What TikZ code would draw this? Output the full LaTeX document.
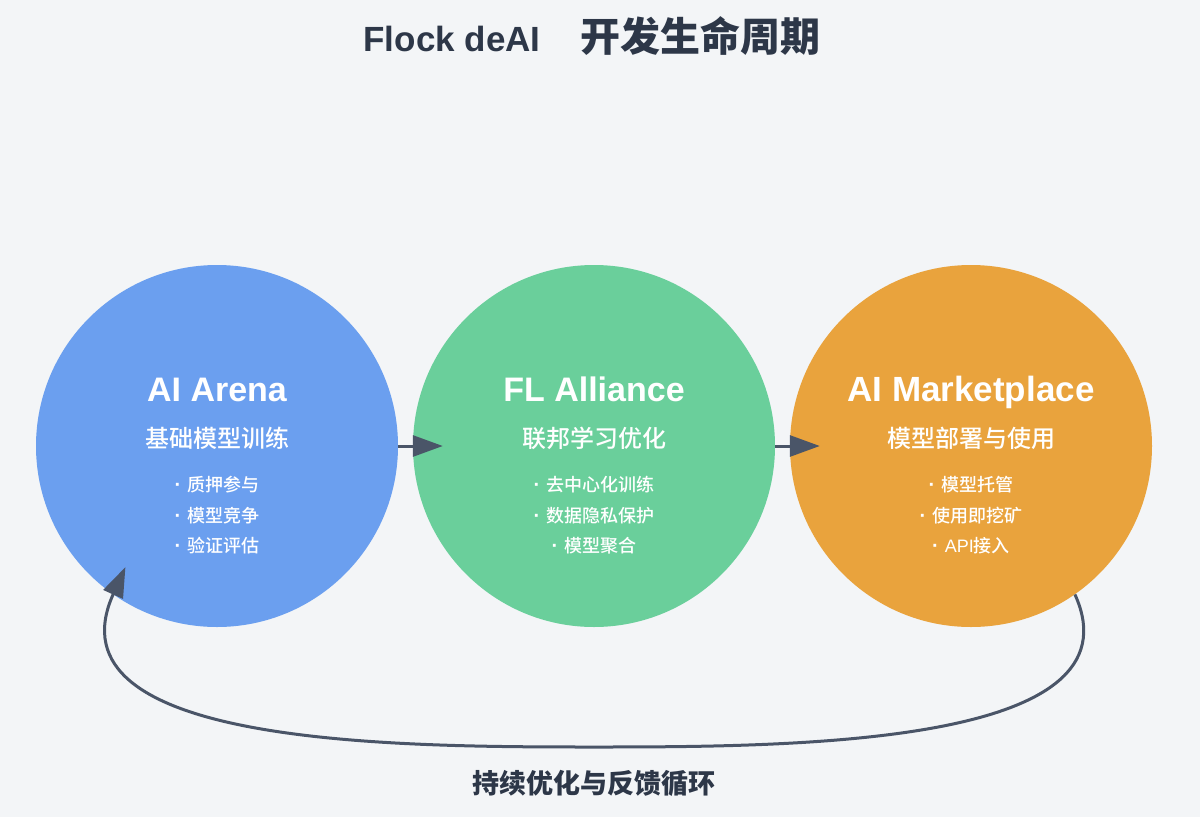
\documentclass[tikz,border=0pt]{standalone}
\usepackage{fontspec}
\setmainfont{Liberation Sans}
\newfontfamily\cjk{Noto Sans CJK SC}
\newfontfamily\cjkm{Noto Sans CJK SC}[UprightFont=* Medium]
\usetikzlibrary{arrows.meta}
\definecolor{bg}{HTML}{F3F5F7}
\definecolor{ink}{HTML}{2D3748}
\definecolor{arrowc}{HTML}{4A5568}
\definecolor{cblue}{HTML}{6B9FEF}
\definecolor{cgreen}{HTML}{6ACF9B}
\definecolor{corange}{HTML}{E9A33D}
\newcommand\itemdot{{\rmfamily\bfseries\fontsize{20}{22}\selectfont\char"00B7}\hspace{6pt}}
\begin{document}
\begin{tikzpicture}[x=1pt,y=-1pt,
  stage/.style={circle, inner sep=0pt, minimum size=362pt},
  headtext/.style={text=white, font=\fontsize{34}{40}\selectfont\bfseries, anchor=base},
  subtext/.style={text=white, font=\cjkm\fontsize{24}{28}\selectfont},
  itemtext/.style={text=white, font=\cjkm\fontsize{18}{22}\selectfont},
  conn/.style={draw=arrowc, line width=3pt, -{Triangle[length=30pt,width=21pt]}, shorten >=-30pt}
]
\path[use as bounding box, fill=bg] (0,0) rectangle (1200,817);

\node[text=ink, anchor=base, font=\fontsize{35}{40}\selectfont\bfseries] (title) at (592,51)
  {Flock deAI\hspace{40pt}{\cjk\fontsize{40}{44}\selectfont\bfseries 开发生命周期}};

\node[stage, fill=cblue] (arena) at (217,446) {};
\node[stage, fill=cgreen] (alliance) at (594,446) {};
\node[stage, fill=corange] (market) at (971,446) {};

\node[headtext] (arenaT) at (217,401) {AI Arena};
\node[subtext] (arenaS) at (217,438) {基础模型训练};
\node[itemtext] (arenaA) at (217,485) {\itemdot 质押参与};
\node[itemtext] (arenaB) at (217,516) {\itemdot 模型竞争};
\node[itemtext] (arenaC) at (217,546) {\itemdot 验证评估};

\node[headtext] (allianceT) at (594,401) {FL Alliance};
\node[subtext] (allianceS) at (594,438) {联邦学习优化};
\node[itemtext] (allianceA) at (594,485) {\itemdot 去中心化训练};
\node[itemtext] (allianceB) at (594,516) {\itemdot 数据隐私保护};
\node[itemtext] (allianceC) at (594,546) {\itemdot 模型聚合};

\node[headtext, font=\fontsize{35}{40}\selectfont\bfseries] (marketT) at (971,401) {AI Marketplace};
\node[subtext] (marketS) at (971,438) {模型部署与使用};
\node[itemtext] (marketA) at (971,485) {\itemdot 模型托管};
\node[itemtext] (marketB) at (971,516) {\itemdot 使用即挖矿};
\node[itemtext] (marketC) at (971,546) {\itemdot {\rmfamily API}接入};

\draw[conn] (arena.east) -- (alliance.west);
\draw[conn] (alliance.east) -- (market.west);
\draw[conn] (market.-55) .. controls (1143,745) and (800,747) .. (594,747)
  .. controls (388,747) and (45,745) .. (arena.-125);

\node[text=ink, font=\cjk\fontsize{27}{30}\selectfont\bfseries] (loop) at (594,783) {持续优化与反馈循环};
\end{tikzpicture}
\end{document}
